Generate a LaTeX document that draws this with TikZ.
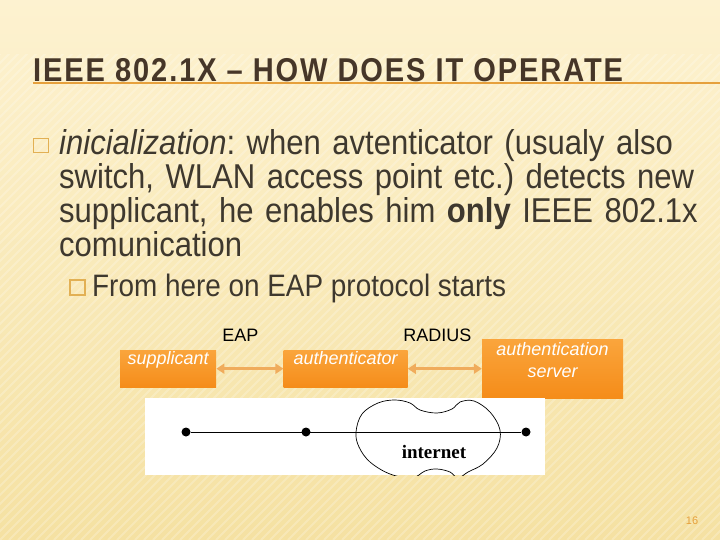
\documentclass[tikz,border=0pt]{standalone}
\usepackage{fontspec}
\setmainfont{Liberation Sans}
\newfontfamily\slidefont[FakeStretch=0.9]{Liberation Sans}
\newfontfamily\headfont[FakeStretch=0.88,LetterSpace=5.8]{Liberation Sans}
\newfontfamily\netfont{Liberation Serif}
\usepackage{tikz}
\usetikzlibrary{positioning,arrows.meta}
\definecolor{slidetop}{RGB}{253,242,208}
\definecolor{slidebot}{RGB}{245,225,162}
\definecolor{headbrown}{RGB}{70,54,40}
\definecolor{textbrown}{RGB}{62,56,46}
\definecolor{ruleorange}{RGB}{230,160,60}
\definecolor{bulletgold}{RGB}{226,176,84}
\definecolor{boxtop}{RGB}{250,165,60}
\definecolor{boxbot}{RGB}{245,140,25}
\definecolor{arrorange}{RGB}{240,172,92}
\tikzset{
  role/.style={top color=boxtop, bottom color=boxbot, draw=none, text=white, inner sep=0pt, align=center, font=\itshape\fontsize{18}{22}\selectfont},
  proto/.style={font=\fontsize{18}{22}\selectfont, text=black, inner sep=0pt},
  link/.style={{Triangle[length=8pt,width=10pt]}-{Triangle[length=8pt,width=10pt]}, line width=2.6pt, draw=arrorange},
  bulletbox/.style={draw=bulletgold, line width=1.2pt, minimum size=14.5pt, inner sep=0pt},
  host/.style={circle, fill=black, minimum size=9pt, inner sep=0pt},
  bodytext/.style={anchor=base west, inner sep=0pt, text=textbrown},
}
\frenchspacing
\begin{document}
\begin{tikzpicture}[x=1pt,y=-1pt]
    \useasboundingbox (0,0) rectangle (720,540);
    \shade[top color=slidetop, bottom color=slidebot] (0,0) rectangle (720,540);
    \begin{scope}
      \clip (0,55) rectangle (720,540);
      \foreach \k in {0,9,...,1300}
        \draw[white, opacity=0.22, line width=2pt] (\k-540,540) -- (\k,0);
    \end{scope}
    \draw[ruleorange, line width=2.5pt] (33,83) -- (720,83);
    \node[anchor=base west, inner sep=0pt, text=headbrown, font=\headfont\bfseries\fontsize{33}{40}\selectfont] (title) at (33,82) {IEEE 802.1X – HOW DOES IT OPERATE};

    \node[bulletbox] (b1) at (41,145.5) {};
    \node[bodytext, text width=660pt, align=left, font=\slidefont\fontsize{34.5}{34}\selectfont] (intro) at (59,155) {\textit{inicialization}: when avtenticator (usualy also\\ switch, WLAN access point etc.) detects new\\ supplicant, he enables him \textbf{only} IEEE 802.1x\\ comunication};
    \node[bulletbox, minimum size=15pt] (b2) at (77.5,287.5) {};
    \node[bodytext, font=\slidefont\fontsize{31}{34}\selectfont] (start) at (92,296) {From here on EAP protocol starts};

    \node[role, text width=96pt, text height=14pt, text depth=23pt, anchor=north west] (supp) at (120,350) {supplicant};
    \node[role, text width=124pt, text height=14pt, text depth=23pt, right=67pt of supp] (auth) {authenticator};
    \node[role, text width=141pt, text height=16pt, text depth=43pt, right=74pt of auth] (server) {authentication\\server};
    \draw[link] (supp) -- (auth) node[proto, midway, yshift=33.5pt, xshift=-9.5pt] (eap) {EAP};
    \draw[link] (auth) -- (server) node[proto, midway, yshift=33.5pt, xshift=-7.5pt] (radius) {RADIUS};

    \fill[white] (145,398) rectangle (545,475);
    \begin{scope}
      \clip (145,398) rectangle (545,475);
      \draw[line width=0.7pt] plot[smooth cycle, tension=0.6] coordinates {(356,432) (362,414) (378,403) (395,400) (410,403) (420,410) (437,413) (452,409) (460,402) (474,401) (490,412) (500,430) (497,448) (483,464) (468,472) (458,478) (450,472) (437,469) (425,471) (412,478) (390,474) (370,462) (359,447)};
    \end{scope}
    \node[host] (h1) at (186,432) {};
    \node[host] (h2) at (306,432) {};
    \node[host] (h3) at (526,432) {};
    \draw[line width=0.9pt] (h1) -- (h3);
    \node[inner sep=0pt, font=\netfont\bfseries\fontsize{19}{22}\selectfont] (inet) at (434,452) {internet};

    \node[text=ruleorange, font=\fontsize{11}{12}\selectfont] (page) at (692,521) {16};
\end{tikzpicture}
\end{document}
